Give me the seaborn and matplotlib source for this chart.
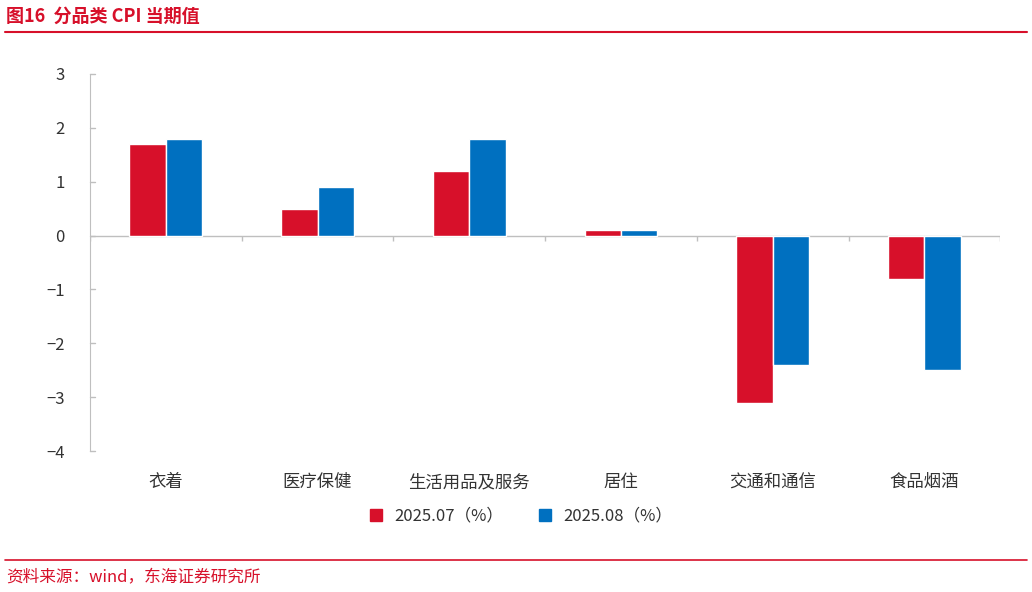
import matplotlib
matplotlib.use("Agg")
import matplotlib.pyplot as plt
import seaborn as sns
import pandas as pd
from matplotlib.lines import Line2D

categories = ["衣着", "医疗保健", "生活用品及服务", "居住", "交通和通信", "食品烟酒"]
series_names = ["2025.07（%）", "2025.08（%）"]
jul = [1.7, 0.5, 1.2, 0.1, -3.1, -0.8]
aug = [1.8, 0.9, 1.8, 0.1, -2.4, -2.5]
colors = ["#D7102A", "#0070C0"]

sns.set_style("white")
plt.rcParams['font.family'] = ['Noto Sans CJK SC', 'DejaVu Sans']

df = pd.DataFrame({
    "cat": categories * 2,
    "series": [series_names[0]] * 6 + [series_names[1]] * 6,
    "val": jul + aug,
})

fig = plt.figure(figsize=(10.32, 5.92), dpi=100)
ax = fig.add_axes([0.0872, 0.238, 0.882, 0.637])
sns.barplot(data=df, x="cat", y="val", hue="series", palette=colors,
            width=0.48, ax=ax, legend=False, saturation=1)
ax.set_ylim(-4, 3)
ax.set_xlim(-0.5, 5.5)
ax.set_yticks(range(-4, 4))
ax.tick_params(axis="y", length=0, pad=18, labelsize=12, labelcolor="#333333")
ax.tick_params(axis="x", length=0, pad=16, labelsize=12.5, labelcolor="#333333")
ax.set_xlabel(""); ax.set_ylabel("")
for s in ["top", "right", "bottom"]:
    ax.spines[s].set_visible(False)
ax.spines["left"].set_color("#BFBFBF")
ax.axhline(0, color="#BFBFBF", lw=1, zorder=0)
ax.vlines([i - 0.5 for i in range(7)], -0.1, 0, color="#BFBFBF", lw=1)
for y in range(-4, 4):
    ax.plot([-0.5, -0.47], [y, y], color="#BFBFBF", lw=1, clip_on=False)

handles = [Line2D([], [], marker="s", ls="", color=c, markersize=8) for c in colors]
fig.legend(handles, series_names, loc="center", bbox_to_anchor=(0.5, 0.128),
           ncol=2, frameon=False, fontsize=12, handletextpad=0.1, columnspacing=1.5,
           labelcolor="#333333")

fig.text(0.006, 0.972, "图16  分品类 CPI 当期值", color="#D7102A", fontsize=13,
         fontweight="bold", va="center")
fig.add_artist(Line2D([0.005, 0.995], [0.946, 0.946], color="#D7102A", lw=1.5))
fig.add_artist(Line2D([0.005, 0.995], [0.054, 0.054], color="#D7102A", lw=1.2))
fig.text(0.006, 0.024, "资料来源：wind，东海证券研究所", color="#D7102A", fontsize=12, va="center")

fig.savefig("out.png", dpi=100)
